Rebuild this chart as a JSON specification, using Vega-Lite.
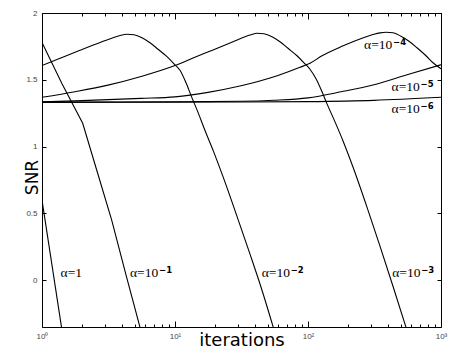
{
  "$schema": "https://vega.github.io/schema/vega-lite/v6.json",
  "width": 399,
  "height": 314,
  "autosize": {"type": "none"},
  "padding": {"left": 42, "top": 13, "right": 23, "bottom": 33},
  "background": "white",
  "config": {
    "view": {"stroke": "black", "strokeWidth": 1},
    "axis": {"domain": false, "grid": false, "tickColor": "black", "tickWidth": 1, "labelColor": "#444", "labelFont": "Liberation Sans", "labelFontSize": 8}
  },
  "datasets": {
    "curves": [
      {"a": "1", "it": 1, "snr": 0.6},
      {"a": "1", "it": 1.406, "snr": -0.36},
      {"a": "1e-1", "it": 1, "snr": 1.78},
      {"a": "1e-1", "it": 1.414, "snr": 1.471},
      {"a": "1e-1", "it": 2.023, "snr": 1.175},
      {"a": "1e-1", "it": 2.591, "snr": 0.8175},
      {"a": "1e-1", "it": 3.342, "snr": 0.45},
      {"a": "1e-1", "it": 4.281, "snr": 0.0405},
      {"a": "1e-1", "it": 5.456, "snr": -0.3525},
      {"a": "1e-2", "it": 1, "snr": 1.607},
      {"a": "1e-2", "it": 1.366, "snr": 1.661},
      {"a": "1e-2", "it": 1.931, "snr": 1.7205},
      {"a": "1e-2", "it": 2.731, "snr": 1.779},
      {"a": "1e-2", "it": 3.42, "snr": 1.815},
      {"a": "1e-2", "it": 3.86, "snr": 1.8315},
      {"a": "1e-2", "it": 4.356, "snr": 1.841},
      {"a": "1e-2", "it": 4.918, "snr": 1.8375},
      {"a": "1e-2", "it": 5.648, "snr": 1.815},
      {"a": "1e-2", "it": 6.486, "snr": 1.7775},
      {"a": "1e-2", "it": 7.451, "snr": 1.729},
      {"a": "1e-2", "it": 8.662, "snr": 1.675},
      {"a": "1e-2", "it": 9.83, "snr": 1.62},
      {"a": "1e-2", "it": 10.905, "snr": 1.571},
      {"a": "1e-2", "it": 12.1, "snr": 1.4775},
      {"a": "1e-2", "it": 13.42, "snr": 1.365},
      {"a": "1e-2", "it": 14.64, "snr": 1.275},
      {"a": "1e-2", "it": 16.81, "snr": 1.121},
      {"a": "1e-2", "it": 19.41, "snr": 0.968},
      {"a": "1e-2", "it": 22.96, "snr": 0.775},
      {"a": "1e-2", "it": 29.92, "snr": 0.45},
      {"a": "1e-2", "it": 36.64, "snr": 0.195},
      {"a": "1e-2", "it": 45.1, "snr": -0.075},
      {"a": "1e-2", "it": 54.83, "snr": -0.3525},
      {"a": "1e-3", "it": 1, "snr": 1.369},
      {"a": "1e-3", "it": 1.77, "snr": 1.411},
      {"a": "1e-3", "it": 3.135, "snr": 1.46},
      {"a": "1e-3", "it": 5.553, "snr": 1.525},
      {"a": "1e-3", "it": 10, "snr": 1.607},
      {"a": "1e-3", "it": 13.66, "snr": 1.663},
      {"a": "1e-3", "it": 19.31, "snr": 1.7235},
      {"a": "1e-3", "it": 27.31, "snr": 1.785},
      {"a": "1e-3", "it": 33.6, "snr": 1.8225},
      {"a": "1e-3", "it": 37.27, "snr": 1.8375},
      {"a": "1e-3", "it": 41.36, "snr": 1.849},
      {"a": "1e-3", "it": 46.7, "snr": 1.845},
      {"a": "1e-3", "it": 53.62, "snr": 1.8225},
      {"a": "1e-3", "it": 61.58, "snr": 1.785},
      {"a": "1e-3", "it": 70.71, "snr": 1.736},
      {"a": "1e-3", "it": 82.66, "snr": 1.68},
      {"a": "1e-3", "it": 93.3, "snr": 1.6275},
      {"a": "1e-3", "it": 103.5, "snr": 1.579},
      {"a": "1e-3", "it": 114.9, "snr": 1.5075},
      {"a": "1e-3", "it": 127.5, "snr": 1.41},
      {"a": "1e-3", "it": 139, "snr": 1.32},
      {"a": "1e-3", "it": 159.6, "snr": 1.185},
      {"a": "1e-3", "it": 183.4, "snr": 1.0425},
      {"a": "1e-3", "it": 217.9, "snr": 0.8475},
      {"a": "1e-3", "it": 282.5, "snr": 0.525},
      {"a": "1e-3", "it": 347.8, "snr": 0.255},
      {"a": "1e-3", "it": 435.5, "snr": -0.045},
      {"a": "1e-3", "it": 545.6, "snr": -0.3525},
      {"a": "1e-4", "it": 1, "snr": 1.335},
      {"a": "1e-4", "it": 1.77, "snr": 1.3425},
      {"a": "1e-4", "it": 3.135, "snr": 1.3515},
      {"a": "1e-4", "it": 5.553, "snr": 1.361},
      {"a": "1e-4", "it": 10, "snr": 1.3725},
      {"a": "1e-4", "it": 17.71, "snr": 1.406},
      {"a": "1e-4", "it": 31.35, "snr": 1.455},
      {"a": "1e-4", "it": 55.53, "snr": 1.5225},
      {"a": "1e-4", "it": 87.08, "snr": 1.594},
      {"a": "1e-4", "it": 103.5, "snr": 1.624},
      {"a": "1e-4", "it": 127.5, "snr": 1.68},
      {"a": "1e-4", "it": 180.1, "snr": 1.751},
      {"a": "1e-4", "it": 254.7, "snr": 1.811},
      {"a": "1e-4", "it": 313.5, "snr": 1.841},
      {"a": "1e-4", "it": 347.8, "snr": 1.851},
      {"a": "1e-4", "it": 386, "snr": 1.856},
      {"a": "1e-4", "it": 435.6, "snr": 1.8525},
      {"a": "1e-4", "it": 500.2, "snr": 1.826},
      {"a": "1e-4", "it": 574.6, "snr": 1.789},
      {"a": "1e-4", "it": 659.9, "snr": 1.74},
      {"a": "1e-4", "it": 771.4, "snr": 1.68},
      {"a": "1e-4", "it": 870.9, "snr": 1.6275},
      {"a": "1e-4", "it": 1000, "snr": 1.5825},
      {"a": "1e-5", "it": 1, "snr": 1.333},
      {"a": "1e-5", "it": 10, "snr": 1.335},
      {"a": "1e-5", "it": 31.35, "snr": 1.339},
      {"a": "1e-5", "it": 55.53, "snr": 1.347},
      {"a": "1e-5", "it": 100, "snr": 1.365},
      {"a": "1e-5", "it": 177.1, "snr": 1.41},
      {"a": "1e-5", "it": 313.5, "snr": 1.4625},
      {"a": "1e-5", "it": 555.3, "snr": 1.5375},
      {"a": "1e-5", "it": 1000, "snr": 1.6125},
      {"a": "1e-6", "it": 1, "snr": 1.331},
      {"a": "1e-6", "it": 31.35, "snr": 1.3335},
      {"a": "1e-6", "it": 100, "snr": 1.3365},
      {"a": "1e-6", "it": 313.5, "snr": 1.346},
      {"a": "1e-6", "it": 1000, "snr": 1.369}
    ],
    "labels": [
      {"base": "α=1", "sup": "", "it": 1.38, "snr": 0.025},
      {"base": "α=10", "sup": "−1", "it": 4.59, "snr": 0.025},
      {"base": "α=10", "sup": "−2", "it": 44.9, "snr": 0.025},
      {"base": "α=10", "sup": "−3", "it": 430, "snr": 0.025},
      {"base": "α=10", "sup": "−4", "it": 264, "snr": 1.73},
      {"base": "α=10", "sup": "−5", "it": 425, "snr": 1.413},
      {"base": "α=10", "sup": "−6", "it": 425, "snr": 1.25}
    ]
  },
  "layer": [
    {
      "data": {"name": "curves"},
      "transform": [{"filter": {"field": "a", "oneOf": ["1e-2", "1e-3", "1e-4", "1e-5", "1e-6"]}}],
      "mark": {"type": "line", "interpolate": "monotone", "color": "black", "strokeWidth": 1.1, "clip": true},
      "encoding": {
        "x": {
          "field": "it", "type": "quantitative",
          "scale": {"type": "log", "domain": [1, 1000], "nice": false},
          "axis": {
            "orient": "bottom",
            "values": [1, 2, 3, 4, 5, 6, 7, 8, 9, 10, 20, 30, 40, 50, 60, 70, 80, 90, 100, 200, 300, 400, 500, 600, 700, 800, 900, 1000],
            "labelExpr": "datum.value == 1 ? '10⁰' : datum.value == 10 ? '10¹' : datum.value == 100 ? '10²' : datum.value == 1000 ? '10³' : ''",
            "tickSize": {"condition": {"test": "indexof([1, 10, 100, 1000], datum.value) >= 0", "value": -6}, "value": -3},
            "labelPadding": 11,
            "labelFlush": false,
            "labelOverlap": false,
            "title": "iterations",
            "titleFont": "DejaVu Sans",
            "titleFontSize": 18,
            "titleFontWeight": "normal",
            "titleColor": "black",
            "titleBaseline": "alphabetic",
            "titleY": 18,
            "titleX": 199.5,
            "titleAlign": "center"
          }
        },
        "y": {
          "field": "snr", "type": "quantitative",
          "scale": {"domain": [-0.35, 2], "nice": false, "zero": false},
          "axis": {
            "orient": "left",
            "values": [0, 0.5, 1, 1.5, 2],
            "labelExpr": "datum.value + ''",
            "tickSize": -4,
            "labelPadding": 9,
            "labelFlush": false,
            "title": "SNR",
            "titleFont": "DejaVu Sans",
            "titleFontSize": 17,
            "titleFontWeight": "normal",
            "titleColor": "black",
            "titleAngle": -90,
            "titleBaseline": "alphabetic",
            "titleAlign": "center",
            "titleX": -5,
            "titleY": 164
          }
        },
        "detail": {"field": "a"}
      }
    },
    {
      "data": {"name": "curves"},
      "transform": [{"filter": {"field": "a", "oneOf": ["1", "1e-1"]}}],
      "mark": {"type": "line", "interpolate": "linear", "color": "black", "strokeWidth": 1.1, "clip": true},
      "encoding": {
        "x": {
          "field": "it", "type": "quantitative",
          "axis": {
            "orient": "top",
            "values": [1, 2, 3, 4, 5, 6, 7, 8, 9, 10, 20, 30, 40, 50, 60, 70, 80, 90, 100, 200, 300, 400, 500, 600, 700, 800, 900, 1000],
            "tickSize": {"condition": {"test": "indexof([1, 10, 100, 1000], datum.value) >= 0", "value": -6}, "value": -3},
            "labels": false,
            "title": null
          }
        },
        "y": {
          "field": "snr", "type": "quantitative",
          "axis": {"orient": "right", "values": [0, 0.5, 1, 1.5, 2], "tickSize": -4, "labels": false, "title": null}
        },
        "detail": {"field": "a"}
      }
    },
    {
      "data": {"name": "labels"},
      "mark": {"type": "text", "align": "left", "baseline": "alphabetic", "font": "Liberation Serif", "fontSize": 13.5, "color": "black"},
      "encoding": {
        "x": {"field": "it", "type": "quantitative", "axis": null},
        "y": {"field": "snr", "type": "quantitative", "axis": null},
        "text": {"field": "base"}
      }
    },
    {
      "data": {"name": "labels"},
      "mark": {"type": "text", "align": "left", "baseline": "alphabetic", "font": "DejaVu Sans", "fontSize": 8.5, "fontWeight": "bold", "color": "black", "dx": 29, "dy": -4},
      "encoding": {
        "x": {"field": "it", "type": "quantitative", "axis": null},
        "y": {"field": "snr", "type": "quantitative", "axis": null},
        "text": {"field": "sup"}
      }
    }
  ],
  "resolve": {"axis": {"x": "independent", "y": "independent"}}
}
